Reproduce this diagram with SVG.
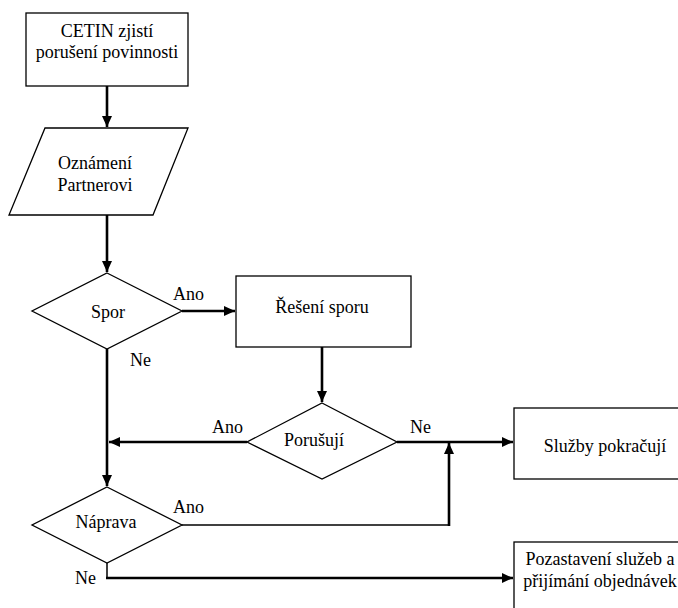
<svg xmlns="http://www.w3.org/2000/svg" width="678" height="608" viewBox="0 0 678 608" font-family="'Liberation Serif', 'Times New Roman', 'DejaVu Serif', serif" font-size="18">
  <defs>
    <marker id="arrow" markerUnits="userSpaceOnUse" markerWidth="12" markerHeight="12" viewBox="0 0 12 12" refX="11" refY="6" orient="auto">
      <path d="M0,1 L11,6 L0,11 Z" fill="#000"/>
    </marker>
    <style>
      .shape { fill: #fff; stroke: #000; stroke-width: 1.3; }
      .txt { font-family: 'Liberation Serif', 'Times New Roman', 'DejaVu Serif', serif; font-size: 18px; fill: #000; text-anchor: middle; }
      .lbl { font-family: 'Liberation Serif', 'Times New Roman', 'DejaVu Serif', serif; font-size: 18px; fill: #000; }
      .link { fill: none; stroke: #000; stroke-width: 2.6; }
      .thin { fill: none; stroke: #000; stroke-width: 1.5; }
    </style>
  </defs>
  <rect width="678" height="608" fill="#fff"/>

  <g id="connectors">
    <path class="link" d="M107,86 V127" marker-end="url(#arrow)"/>
    <path class="link" d="M107,215 V272" marker-end="url(#arrow)"/>
    <path class="link" d="M182,311 H235" marker-end="url(#arrow)"/>
    <path class="link" d="M322,347 V402" marker-end="url(#arrow)"/>
    <path class="link" d="M397,442 H513" marker-end="url(#arrow)"/>
    <path class="link" d="M247,442 H109" marker-end="url(#arrow)"/>
    <path class="link" d="M107,349 V486" marker-end="url(#arrow)"/>
    <path class="thin" d="M182,525 H449"/>
    <path class="link" d="M449,526 V443" marker-end="url(#arrow)"/>
    <path class="thin" d="M107,563 V578"/>
    <path class="link" d="M106,578 H513" marker-end="url(#arrow)"/>
    <text class="lbl" x="173" y="300">Ano</text>
    <text class="lbl" x="130" y="366">Ne</text>
    <text class="lbl" x="212" y="433">Ano</text>
    <text class="lbl" x="410" y="433">Ne</text>
    <text class="lbl" x="173" y="513">Ano</text>
    <text class="lbl" x="75" y="584">Ne</text>
  </g>

  <g id="cetin">
    <rect class="shape" x="26" y="13" width="162" height="73"/>
    <text class="txt" x="107" y="37">CETIN zjistí</text>
    <text class="txt" x="107" y="58">porušení povinnosti</text>
  </g>

  <g id="oznameni">
    <polygon class="shape" points="45,128 188,128 153,215 9,215"/>
    <text class="txt" x="95" y="169">Oznámení</text>
    <text class="txt" x="95" y="191">Partnerovi</text>
  </g>

  <g id="spor">
    <polygon class="shape" points="107,273 182,311 107,349 32,311"/>
    <text class="txt" x="108" y="318">Spor</text>
  </g>

  <g id="reseni">
    <rect class="shape" x="236" y="276" width="175" height="71"/>
    <text class="txt" x="322" y="313">Řešení sporu</text>
  </g>

  <g id="porusuji">
    <polygon class="shape" points="322,403 397,442 322,479 247,442"/>
    <text class="txt" x="314" y="446">Porušují</text>
  </g>

  <g id="sluzby">
    <rect class="shape" x="514" y="408" width="180" height="71"/>
    <text class="txt" x="605" y="452">Služby pokračují</text>
  </g>

  <g id="naprava">
    <polygon class="shape" points="107,487 182,525 107,563 32,525"/>
    <text class="txt" x="106" y="528">Náprava</text>
  </g>

  <g id="pozastaveni">
    <rect class="shape" x="514" y="542" width="180" height="90"/>
    <text class="txt" x="600" y="565">Pozastavení služeb a</text>
    <text class="txt" x="600" y="587">přijímání objednávek</text>
  </g>
</svg>
